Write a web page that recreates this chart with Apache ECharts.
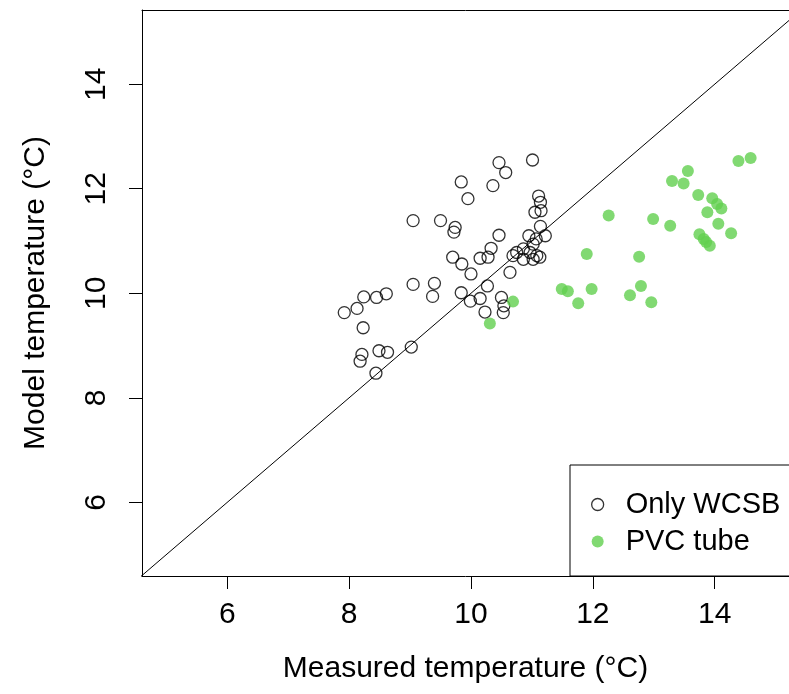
<!DOCTYPE html>
<html>
<head>
<meta charset="utf-8">
<script src="https://cdn.jsdelivr.net/npm/echarts@6/dist/echarts.min.js"></script>
<style>
  html, body { margin: 0; padding: 0; background: #fff; }
  #chart { width: 789px; height: 694px; }
</style>
</head>
<body>
<div id="chart"></div>
<script>
// measured vs model temperature
var wcsbMeasured = [10.46, 10.57, 11.01, 9.84, 10.36, 9.95, 11.11, 11.14, 11.05, 11.15,
    9.05, 9.50, 9.74, 9.72, 10.46, 11.14, 10.95, 11.07, 11.22, 11.02,
    10.86, 10.75, 10.69, 10.97, 11.08, 11.13, 10.86, 11.02, 10.33, 10.15,
    10.28, 9.70, 9.85, 10.00, 10.64, 9.05, 9.40, 9.37, 9.84, 10.27,
    9.99, 10.15, 10.50, 10.54, 10.53, 10.23, 8.61, 8.45, 8.24, 8.13,
    7.92, 8.23, 8.21, 8.18, 8.49, 8.63, 9.02, 8.44];
var wcsbModel = [12.50, 12.31, 12.55, 12.13, 12.06, 11.81, 11.86, 11.74, 11.55, 11.58,
    11.39, 11.39, 11.26, 11.17, 11.11, 11.28, 11.10, 11.04, 11.10, 10.94,
    10.85, 10.78, 10.72, 10.78, 10.72, 10.69, 10.65, 10.65, 10.86, 10.67,
    10.69, 10.69, 10.56, 10.37, 10.40, 10.17, 10.19, 9.94, 10.01, 10.14,
    9.85, 9.90, 9.92, 9.76, 9.63, 9.64, 9.99, 9.92, 9.93, 9.71,
    9.63, 9.34, 8.83, 8.70, 8.90, 8.87, 8.97, 8.47];

var pvcMeasured = [10.31, 10.69, 11.49, 11.59, 11.76, 11.98, 11.90, 12.26, 12.61, 12.79,
    12.96, 12.76, 12.99, 13.27, 13.30, 13.49, 13.56, 13.73, 13.96, 14.04,
    14.11, 13.88, 14.06, 14.27, 13.75, 13.82, 13.92, 13.86, 14.39, 14.59];
var pvcModel = [9.42, 9.84, 10.08, 10.04, 9.81, 10.08, 10.75, 11.49, 9.96, 10.14,
    9.83, 10.70, 11.42, 11.29, 12.15, 12.10, 12.34, 11.88, 11.82, 11.71,
    11.62, 11.55, 11.33, 11.15, 11.13, 11.04, 10.91, 10.98, 12.53, 12.59];

var tickValues = [6, 8, 10, 12, 14];
var oneToOne = [0, 20];

function zip(a, b) {
    var out = [];
    for (var i = 0; i < a.length; i++) out.push([a[i], b[i]]);
    return out;
}

var font = 'Liberation Sans, Arial, sans-serif';
var green = '#61D04F';
var xMin = 4.6, xMax = 15.22;

var myChart = echarts.init(document.getElementById('chart'));
var option = {
    animation: false,
    backgroundColor: '#fff',
    textStyle: { fontFamily: font, color: '#000' },
    grid: {
        left: 142,
        top: 10,
        right: 0,
        height: 566,
        show: false,
        containLabel: false,
        outerBoundsMode: 'none'
    },
    legend: {
        orient: 'vertical',
        left: 570,
        top: 465,
        padding: [21, 200, 16, 21],
        itemGap: 0,
        itemWidth: 12,
        itemHeight: 12,
        backgroundColor: '#fff',
        borderColor: '#000',
        borderWidth: 1,
        borderRadius: 0,
        textStyle: { fontSize: 29, lineHeight: 37, color: '#000', fontFamily: font, padding: [0, 0, 0, 17] },
        data: [
            { name: 'Only WCSB', icon: 'circle', itemStyle: { color: 'rgba(0,0,0,0)', borderColor: '#000', borderWidth: 1.3 } },
            { name: 'PVC tube', icon: 'circle', itemStyle: { color: green } }
        ]
    },
    xAxis: [{
        type: 'value',
        min: xMin,
        max: xMax,
        name: 'Measured temperature (°C)',
        nameLocation: 'middle',
        nameGap: 78,
        nameTextStyle: { fontSize: 30, color: '#000', fontFamily: font },
        axisLine: { show: true, lineStyle: { color: '#000', width: 1 } },
        axisTick: { show: true, inside: false, length: 13, customValues: tickValues, lineStyle: { color: '#000' } },
        axisLabel: { customValues: tickValues, fontSize: 30, margin: 24, color: '#000', fontFamily: font },
        splitLine: { show: false }
    }, {
        // top edge of the plot box
        type: 'value',
        position: 'top',
        min: xMin,
        max: xMax,
        axisLine: { show: true, onZero: false, lineStyle: { color: '#000', width: 1 } },
        axisTick: { show: false },
        axisLabel: { show: false },
        splitLine: { show: false }
    }],
    yAxis: {
        type: 'value',
        min: 4.59,
        max: 15.42,
        name: 'Model temperature (°C)',
        nameLocation: 'middle',
        nameGap: 91,
        nameTextStyle: { fontSize: 30, color: '#000', fontFamily: font },
        axisLine: { show: true, onZero: false, lineStyle: { color: '#000', width: 1 } },
        axisTick: { show: true, inside: false, length: 13, customValues: tickValues, lineStyle: { color: '#000' } },
        axisLabel: { customValues: tickValues, rotate: 90, fontSize: 30, margin: 30, color: '#000', fontFamily: font },
        splitLine: { show: false }
    },
    series: [
        {
            name: '1:1',
            type: 'line',
            data: zip(oneToOne, oneToOne),
            showSymbol: false,
            clip: true,
            silent: true,
            lineStyle: { color: '#000', width: 1 }
        },
        {
            name: 'Only WCSB',
            type: 'scatter',
            data: zip(wcsbMeasured, wcsbModel),
            symbol: 'circle',
            symbolSize: 12,
            itemStyle: { color: 'rgba(0,0,0,0)', borderColor: '#000', borderWidth: 1.3 }
        },
        {
            name: 'PVC tube',
            type: 'scatter',
            data: zip(pvcMeasured, pvcModel),
            symbol: 'circle',
            symbolSize: 12,
            itemStyle: { color: green }
        }
    ]
};
myChart.setOption(option, true);
</script>
</body>
</html>
